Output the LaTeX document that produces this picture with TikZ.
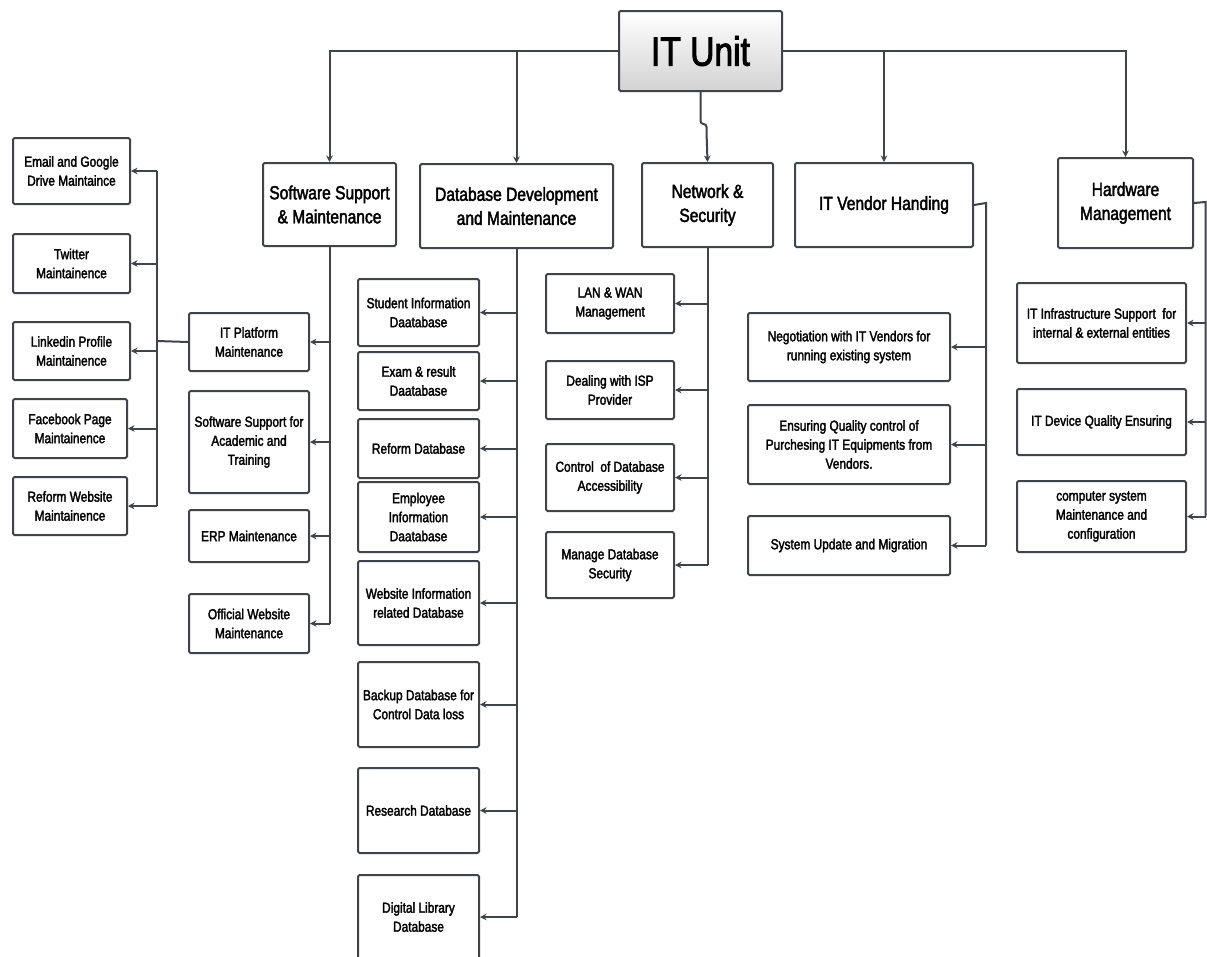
\documentclass[tikz,border=0pt]{standalone}
\usepackage{fontspec}
\setmainfont{Liberation Sans}[FakeStretch=0.82,FakeBold=2.2]
\usetikzlibrary{arrows.meta}
\definecolor{lc}{HTML}{3F434A}
\newcommand{\fsm}{\fontsize{14.5}{19}\selectfont}
\newcommand{\fbg}{\fontsize{19}{24}\selectfont}
\newcommand{\fhu}{\fontsize{41}{44}\selectfont}
\newcommand{\bx}[6]{\node[box, minimum width=#4pt, minimum height=#5pt] (#1) at (#2,#3) {#6};}
\newcommand{\tbx}[6]{\node[box, font=\fbg, minimum width=#4pt, minimum height=#5pt] (#1) at (#2,#3) {#6};}
\tikzset{
  box/.style={draw=lc, line width=2pt, rounded corners=1.5pt, align=center, anchor=north west, inner sep=1pt, font=\fsm, fill=white},
  ln/.style={draw=lc, line width=2pt},
  arr/.style={ln, -{Stealth[length=6.5pt,width=6.5pt]}},
}
\begin{document}
\begin{tikzpicture}[x=1pt,y=-1pt]
\clip (0,0) rectangle (1207,956);
\fill[white] (0,0) rectangle (1207,956);
% top
\node[box, top color=white, bottom color=gray!35, minimum width=163pt, minimum height=80pt, font=\fhu] (it) at (618,10) {IT Unit};
\tbx{sw}{262}{162}{133}{83}{Software Support\\\& Maintenance}
\tbx{db}{419}{163}{193}{84}{Database Development\\and Maintenance}
\tbx{net}{641}{162}{131}{84}{Network \&\\Security}
\tbx{ven}{794}{162}{178}{84}{IT Vendor Handing}
\tbx{hw}{1057}{157}{135}{90}{Hardware\\Management}
% left column
\bx{email}{12}{137}{117}{66}{Email and Google\\Drive Maintaince}
\bx{tw}{12}{233}{117}{59}{Twitter\\Maintainence}
\bx{li}{12}{321}{117}{58}{Linkedin Profile\\Maintainence}
\bx{fb}{12}{398}{114}{59}{Facebook Page\\Maintainence}
\bx{rw}{12}{476}{114}{58}{Reform Website\\Maintainence}
% software children
\bx{itp}{188}{312}{120}{58}{IT Platform\\Maintenance}
\bx{ssa}{188}{390}{120}{102}{Software Support for\\Academic and\\Training}
\bx{erp}{188}{509}{120}{52}{ERP Maintenance}
\bx{ofw}{188}{593}{120}{59}{Official Website\\Maintenance}
% database children
\bx{sid}{357}{278}{121}{67}{Student Information\\Daatabase}
\bx{exam}{357}{351}{121}{58}{Exam \& result\\Daatabase}
\bx{ref}{357}{418}{121}{59}{Reform Database}
\bx{emp}{357}{481}{121}{70}{Employee\\Information\\Daatabase}
\bx{web}{357}{560}{121}{84}{Website Information\\related Database}
\bx{bak}{357}{661}{121}{85}{Backup Database for\\Control Data loss}
\bx{res}{357}{767}{121}{85}{Research Database}
\bx{dig}{357}{874}{121}{84}{Digital Library\\Database}
% network children
\bx{lan}{545}{273}{128}{59}{LAN \& WAN\\Management}
\bx{isp}{545}{360}{128}{58}{Dealing with ISP\\Provider}
\bx{ctl}{545}{443}{128}{67}{Control~ of Database\\Accessibility}
\bx{mng}{545}{531}{128}{66}{Manage Database\\Security}
% vendor children
\bx{neg}{747}{312}{202}{68}{Negotiation with IT Vendors for\\running existing system}
\bx{ens}{747}{404}{202}{79}{Ensuring Quality control of\\Purchesing IT Equipments from\\Vendors.}
\bx{sys}{747}{515}{202}{59}{System Update and Migration}
% hardware children
\bx{inf}{1016}{282}{169}{80}{IT Infrastructure Support~ for\\internal \& external entities}
\bx{dev}{1016}{388}{169}{66}{IT Device Quality Ensuring}
\bx{cmp}{1016}{480}{169}{71}{computer system\\Maintenance and\\configuration}
% bus coordinates
\coordinate (lbus) at (157,341);
\coordinate (vbus) at (986,203);
\coordinate (hbus) at (1205.5,202);
\coordinate (nj1) at (699.5,124);
\coordinate (nj2) at (706.5,132);
% top connectors
\draw[arr] (it.west) -| (sw.north);
\draw[arr] (it.west) -| (db.north);
\draw[arr] (it.east) -| (ven.north);
\draw[arr] (it.east) -| (hw.north);
\draw[arr, rounded corners=3pt] (it.south) -- (it.south |- nj1) -- (nj2 |- nj1) -- (nj2) -- (net.north);
% software subtree
\draw[ln] (sw.south) -- (sw.south |- ofw.east);
\foreach \c in {itp,ssa,erp,ofw} \draw[arr] (sw.south |- \c.east) -- (\c.east);
\draw[ln] (itp.west) -- (lbus);
\draw[ln] (lbus |- email.east) -- (lbus |- rw.east);
\foreach \c in {email,tw,li,fb,rw} \draw[arr] (lbus |- \c.east) -- (\c.east);
% database subtree
\draw[ln] (db.south) -- (db.south |- dig.east);
\foreach \c in {sid,exam,ref,emp,web,bak,res,dig} \draw[arr] (db.south |- \c.east) -- (\c.east);
% network subtree
\draw[ln] (net.south) -- (net.south |- mng.east);
\foreach \c in {lan,isp,ctl,mng} \draw[arr] (net.south |- \c.east) -- (\c.east);
% vendor subtree
\draw[ln] (ven.east) -- (vbus) -- (vbus |- sys.east);
\foreach \c in {neg,ens,sys} \draw[arr] (vbus |- \c.east) -- (\c.east);
% hardware subtree
\draw[ln] (hw.east) -- (hbus) -- (hbus |- cmp.east);
\foreach \c in {inf,dev,cmp} \draw[arr] (hbus |- \c.east) -- (\c.east);
\end{tikzpicture}
\end{document}
